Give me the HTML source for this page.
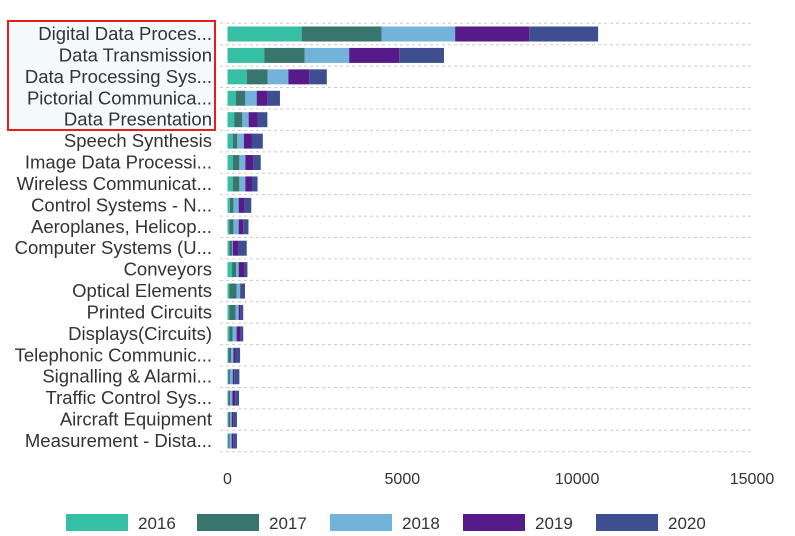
<!DOCTYPE html>
<html><head><meta charset="utf-8"><style>
body{margin:0;background:#fff;}
svg{display:block;font-family:"Liberation Sans",sans-serif;}
</style></head><body>
<svg id="chart" width="795" height="536"></svg>
<script>
const categories=["Digital Data Proces...","Data Transmission","Data Processing Sys...","Pictorial Communica...","Data Presentation","Speech Synthesis","Image Data Processi...","Wireless Communicat...","Control Systems - N...","Aeroplanes, Helicop...","Computer Systems (U...","Conveyors","Optical Elements","Printed Circuits","Displays(Circuits)","Telephonic Communic...","Signalling & Alarmi...","Traffic Control Sys...","Aircraft Equipment","Measurement - Dista..."];
const seriesNames=["2016","2017","2018","2019","2020"];
const s2016=[2120,1050,550,235,190,150,150,150,70,50,50,130,50,50,50,20,20,20,20,20];
const s2017=[2290,1160,600,275,235,130,190,190,100,120,80,120,210,180,100,80,50,60,60,40];
const s2018=[2100,1270,590,325,180,190,170,170,150,150,20,70,100,90,110,70,80,60,40,60];
const s2019=[2120,1430,600,315,265,230,230,190,170,130,170,170,20,60,120,70,40,80,60,60];
const s2020=[1970,1280,500,350,270,310,210,160,190,150,230,80,120,70,70,120,150,110,90,90];
const xTicks=[0,5000,10000,15000];
const colors=["#35bfa5","#38756e","#74b3d9","#561a8a","#3d4f91"];
const series=[s2016,s2017,s2018,s2019,s2020];
const NS="http://www.w3.org/2000/svg";
const svg=document.getElementById("chart");
const x0=227.5,x1=752,xMax=15000,topY=23.3,band=21.42,barH=15;
const xs=v=>x0+v/xMax*(x1-x0);
const yb=i=>topY+i*band;
function mk(t,a){const e=document.createElementNS(NS,t);for(const k in a)e.setAttribute(k,a[k]);svg.appendChild(e);return e;}
const bg=mk("rect",{x:8,y:21,width:207,height:109,fill:"#f4f9fb"});


for(let i=0;i<=categories.length;i++){
 const l=mk("line",{x1:220,x2:752,y1:yb(i),y2:yb(i),stroke:"#ccc","stroke-dasharray":"3,3","stroke-width":1});
 
 
}
categories.forEach((c,i)=>{
 const t=mk("text",{x:212,y:yb(i)+band/2+6,"text-anchor":"end","font-size":18.5,fill:"#333"});
 t.textContent=c;
 
 
 let cum=0;
 series.forEach((s,k)=>{
  const r=mk("rect",{x:xs(cum),y:yb(i)+(band-barH)/2,width:xs(cum+s[i])-xs(cum),height:barH,fill:colors[k]});
  
  
  cum+=s[i];
 });
});
xTicks.forEach(v=>{
 const t=mk("text",{x:xs(v),y:484,"text-anchor":"middle","font-size":16,fill:"#333"});
 t.textContent=v;
 
 
});
const box=mk("rect",{x:8,y:21,width:207,height:109,fill:"none",stroke:"#e0201b","stroke-width":2});


const lx=[66,197,330,463,596];
seriesNames.forEach((n,k)=>{
 const r=mk("rect",{x:lx[k],y:514,width:62,height:17,fill:colors[k]});
 
 
 const t=mk("text",{x:lx[k]+72,y:529,"font-size":17,fill:"#333"});
 t.textContent=n;
 
 
});
</script>
</body></html>
